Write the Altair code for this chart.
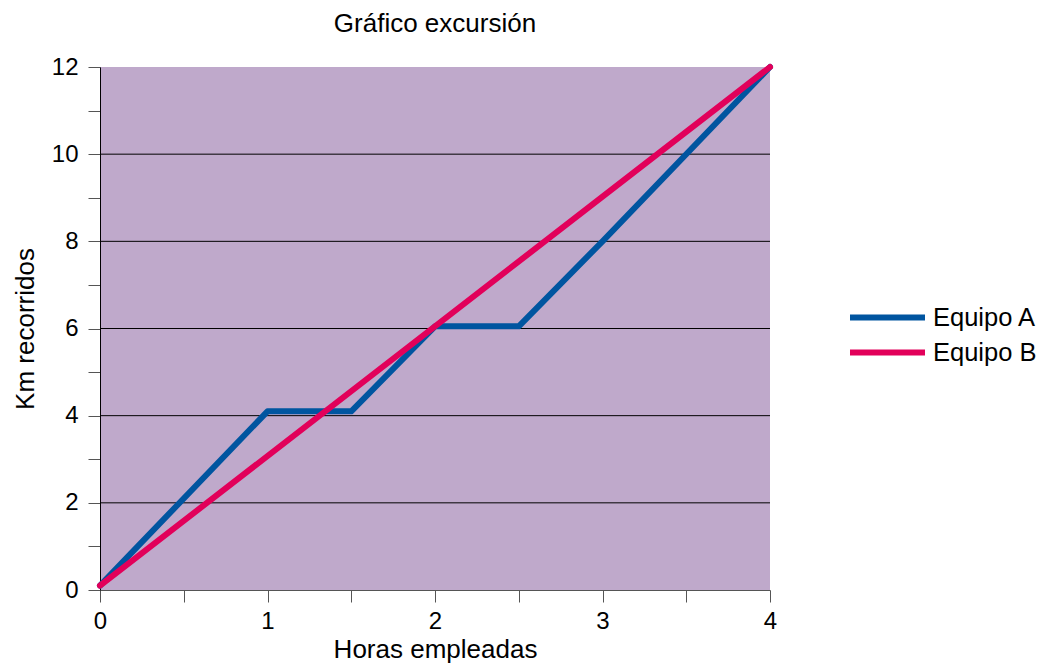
import altair as alt
import pandas as pd

horas_a = [0, 1, 1.5, 2, 2.5, 3, 4]
km_a = [0.1, 4.1, 4.1, 6.05, 6.05, 8.0, 12]
horas_b = [0, 4]
km_b = [0.1, 12]
grid_vals = [2, 4, 6, 8, 10]

rows = [{"h": h, "km": k, "equipo": "Equipo A", "o": i} for i, (h, k) in enumerate(zip(horas_a, km_a))]
rows += [{"h": h, "km": k, "equipo": "Equipo B", "o": i} for i, (h, k) in enumerate(zip(horas_b, km_b))]
df = pd.DataFrame(rows)
gdf = pd.DataFrame({"g": grid_vals})

FONT = "Liberation Sans"
TICK = 24
TITLE = 26

x = alt.X("h:Q", scale=alt.Scale(domain=[0, 4], nice=False),
          axis=alt.Axis(title="Horas empleadas", values=[0, 0.5, 1, 1.5, 2, 2.5, 3, 3.5, 4],
                        format="~g", labelFlush=False,
                        labelExpr="datum.value % 1 == 0 ? datum.label : ''",
                        grid=False, tickSize=12, tickColor="#555555", domainColor="#555555",
                        labelFontSize=TICK, titleFontSize=TITLE, labelPadding=7, titlePadding=3,
                        labelFont=FONT, titleFont=FONT, labelColor="black", titleColor="black",
                        titleFontWeight="normal"))
y = alt.Y("km:Q", scale=alt.Scale(domain=[0, 12], nice=False),
          axis=alt.Axis(title="Km recorridos", values=list(range(13)),
                        format="~g", labelFlush=False,
                        labelExpr="datum.value % 2 == 0 ? datum.label : ''",
                        grid=False, tickSize=12, tickColor="#555555", domainColor="black",
                        labelFontSize=TICK, titleFontSize=TITLE, labelPadding=10, titlePadding=13,
                        labelFont=FONT, titleFont=FONT, labelColor="black", titleColor="black",
                        titleFontWeight="normal"))

grid = alt.Chart(gdf).mark_rule(color="black", strokeWidth=1).encode(
    y=alt.Y("g:Q", scale=alt.Scale(domain=[0, 12], nice=False)))

lines = alt.Chart(df).mark_line(strokeWidth=6, strokeCap="round", strokeJoin="round").encode(
    x=x, y=y, order="o:Q",
    color=alt.Color("equipo:N",
                    scale=alt.Scale(domain=["Equipo A", "Equipo B"], range=["#0055A0", "#E2005A"]),
                    legend=alt.Legend(title=None, symbolType="stroke", symbolStrokeWidth=6,
                                      symbolSize=5625, labelFontSize=25.5, labelFont=FONT,
                                      labelColor="black", rowPadding=0, padding=0, clipHeight=35,
                                      labelOffset=5, orient="none", legendX=747, legendY=233)))

chart = alt.layer(grid, lines).properties(
    width=670, height=523,
    autosize=alt.AutoSizeParams(type="none"),
    padding={"left": 92, "top": 59, "right": 267, "bottom": 74},
    title=alt.TitleParams("Gráfico excursión", fontSize=TITLE, font=FONT, fontWeight="normal",
                          color="black", offset=18),
).configure_view(fill="#BFA9CB", stroke=None)

chart.save("out.html", embed_options={"renderer": "svg", "actions": False})
